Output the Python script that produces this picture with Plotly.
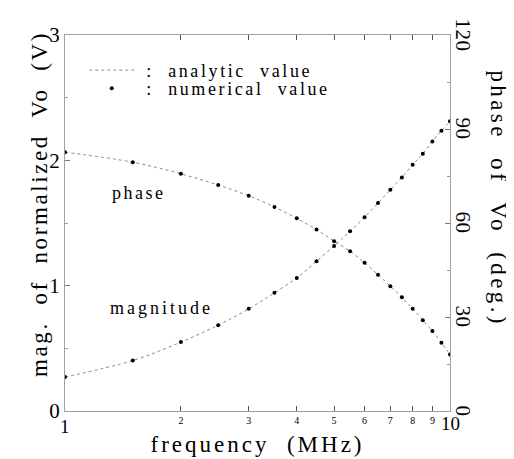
import plotly.graph_objects as go

freq = [1.0, 1.5, 2.0, 2.5, 3.0, 3.5, 4.0, 4.5, 5.0, 5.5, 6.0, 6.5, 7.0, 7.5, 8.0, 8.5, 9.0, 9.5, 10.0]
magnitude = [0.271, 0.403, 0.550, 0.685, 0.815, 0.943, 1.062, 1.195, 1.317, 1.434, 1.546, 1.660,
             1.766, 1.864, 1.965, 2.053, 2.151, 2.236, 2.311]
phase_deg = [82.6, 79.4, 75.7, 72.1, 68.7, 65.1, 61.5, 57.9, 54.2, 51.0, 47.3, 43.5,
             39.8, 36.3, 32.6, 29.0, 25.5, 21.8, 18.0]

x_minor_ticks = [2, 3, 4, 5, 6, 7, 8, 9]
x_end_labels = ["1", "10"]
x_end_pos = [0, 1]          # log10 positions of the end labels
left_ticks = [0, 1, 2, 3]
right_ticks = [0, 30, 60, 90, 120]

FONT = "Liberation Serif"
LINE_C = "#8a8a8a"
FRAME_C = "#a0a0a0"


def spaced(text, ls):
    return '<span style="letter-spacing:%.1fpx">%s</span>' % (ls, text)


fig = go.Figure()

fig.add_trace(go.Scatter(x=freq, y=magnitude, mode="lines",
                         line=dict(color=LINE_C, width=1, dash="dot", shape="spline"),
                         name=spaced(" :  analytic  value", 2.6), showlegend=True, yaxis="y",
                         legend="legend"))
fig.add_trace(go.Scatter(x=freq, y=phase_deg, mode="lines",
                         line=dict(color=LINE_C, width=1, dash="dot", shape="spline"),
                         name="phase analytic", showlegend=False, yaxis="y2"))
fig.add_trace(go.Scatter(x=freq, y=magnitude, mode="markers", marker=dict(color="black", size=4),
                         name=spaced(" :  numerical  value", 2.6), showlegend=True, yaxis="y",
                         legend="legend2"))
fig.add_trace(go.Scatter(x=freq, y=phase_deg, mode="markers", marker=dict(color="black", size=4),
                         name="phase numerical", showlegend=False, yaxis="y2"))

annotations = [
    dict(text=spaced("mag.  of  normalized  Vo  (V)", 2.6), xref="paper", yref="paper",
         x=-0.068, y=0.55, xanchor="center", yanchor="middle", textangle=-90, showarrow=False,
         font=dict(size=23)),
    dict(text=spaced("phase  of  Vo  (deg.)", 3.4), xref="paper", yref="paper", x=1.125, y=0.565,
         xanchor="center", yanchor="middle", textangle=90, showarrow=False,
         font=dict(size=23)),
    dict(text=spaced("phase", 2.5), xref="paper", yref="paper", x=0.116, y=0.58, xanchor="left",
         yanchor="middle", showarrow=False, font=dict(size=18)),
    dict(text=spaced("magnitude", 3.0), xref="paper", yref="paper", x=0.111, y=0.275, xanchor="left",
         yanchor="middle", showarrow=False, font=dict(size=18)),
]
# right-axis tick labels, rotated to read top-to-bottom
for v in right_ticks:
    annotations.append(dict(text=spaced(str(v), 0.5), xref="paper", yref="y2", x=1.035, y=v,
                            xanchor="center", yanchor="middle", textangle=90,
                            showarrow=False, font=dict(size=21)))
for lbl, pos, ys in zip(x_end_labels, x_end_pos, [-3, 0]):
    annotations.append(dict(text=lbl, xref="x", yref="paper", x=pos, y=0, yanchor="top",
                            xanchor="center", yshift=ys, showarrow=False, font=dict(size=19)))

fig.update_layout(
    width=514, height=459,
    margin=dict(l=57, r=72, t=27, b=56),
    paper_bgcolor="white", plot_bgcolor="white",
    font=dict(family=FONT, color="black", size=18),
    showlegend=True,
    legend=dict(x=0.05, y=0.955, xanchor="left", yanchor="top", bgcolor="rgba(0,0,0,0)",
                font=dict(family=FONT, size=18), itemwidth=45),
    legend2=dict(x=0.05, y=0.907, xanchor="left", yanchor="top", bgcolor="rgba(0,0,0,0)",
                 font=dict(family=FONT, size=18), itemwidth=45),
    xaxis=dict(type="log", range=[0, 1], tickvals=x_minor_ticks,
               tickangle=0, tickfont=dict(size=10), ticks="inside", ticklen=5, tickcolor="#555",
               showline=True, linecolor=FRAME_C, linewidth=1, mirror="ticks",
               showgrid=False, zeroline=False, automargin=False,
               title=dict(text=spaced("frequency  (MHz)", 3.0), font=dict(size=23), standoff=10)),
    yaxis=dict(range=[0, 3], tickvals=left_ticks, ticks="inside", ticklen=5, tickcolor="#777",
               tickfont=dict(size=21), automargin=False,
               showline=True, linecolor=FRAME_C, linewidth=1, mirror=True,
               showgrid=False, zeroline=False,
               minor=dict(dtick=0.5, ticks="inside", ticklen=3, tickcolor="#999")),
    yaxis2=dict(range=[0, 120], tickvals=right_ticks, overlaying="y", side="right",
                ticks="inside", ticklen=5, tickcolor="#777", showticklabels=False,
                showgrid=False, zeroline=False, showline=False, automargin=False,
                minor=dict(dtick=15, ticks="inside", ticklen=3, tickcolor="#999")),
    annotations=annotations,
)

fig.write_html("out.html")
